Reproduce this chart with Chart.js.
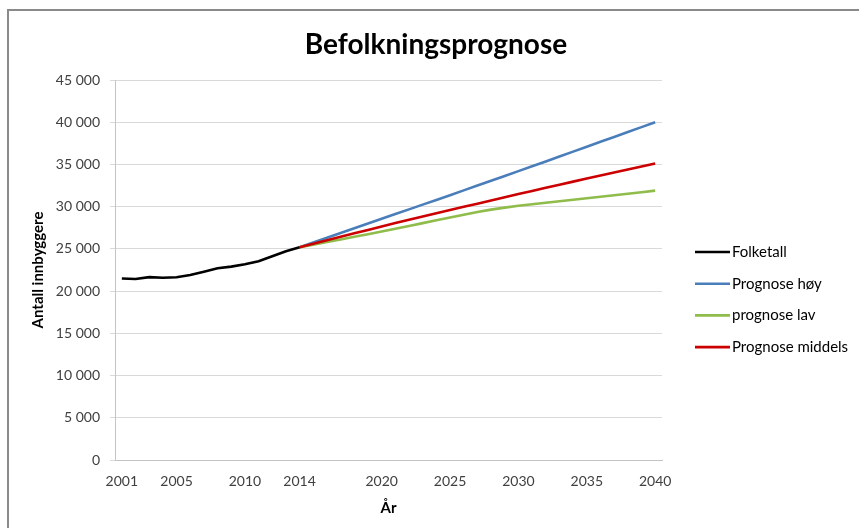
<!DOCTYPE html>
<html>
<head>
<meta charset="utf-8">
<script src="https://cdn.jsdelivr.net/npm/chart.js@4/dist/chart.umd.min.js"></script>
<style>
  html, body { margin: 0; padding: 0; background: #fff; }
  #frame {
    position: absolute; left: 7px; top: 9px; width: 900px; height: 600px;
    border-left: 2px solid #8a8a8a; border-top: 2px solid #8a8a8a;
  }
  #wrap { position: absolute; left: 0; top: 0; width: 859px; height: 528px; }
</style>
</head>
<body>
<div id="frame"></div>
<div id="wrap"><canvas id="popChart" width="859" height="528"></canvas></div>
<script>
const years = [];
for (let y = 2001; y <= 2040; y++) years.push(String(y));

const shownYears = ["2001", "2005", "2010", "2014", "2020", "2025", "2030", "2035", "2040"];

// Folketall 2001-2014
const folketall = [21500, 21430, 21650, 21580, 21650, 21900, 22300, 22700, 22900, 23170, 23530, 24130, 24720, 25200];

// Prognoser 2014-2040
const prognoseHoy = [25200, 25760, 26320, 26880, 27440, 28000, 28560, 29120, 29680, 30240, 30800, 31360,
  31930, 32500, 33070, 33640, 34210, 34780, 35360, 35940, 36520, 37100, 37680, 38260, 38840, 39420, 40000];
const prognoseLav = [25200, 25500, 25805, 26115, 26430, 26745, 27060, 27390, 27720, 28050, 28380, 28710,
  29040, 29370, 29650, 29890, 30100, 30285, 30465, 30645, 30820, 30995, 31170, 31350, 31530, 31715, 31900];
const prognoseMiddels = [25200, 25610, 26020, 26430, 26840, 27250, 27660, 28060, 28455, 28845, 29230, 29610,
  29985, 30355, 30740, 31120, 31495, 31865, 32235, 32600, 32965, 33325, 33685, 34040, 34395, 34750, 35100];

const yTicks = [0, 5000, 10000, 15000, 20000, 25000, 30000, 35000, 40000, 45000];

const pad = (arr, before) => Array(before).fill(null).concat(arr);
const histData = folketall.concat(Array(years.length - folketall.length).fill(null));
const progStart = years.indexOf("2014");

const series = [
  { label: "Folketall", data: histData, color: "#000000" },
  { label: "Prognose høy", data: pad(prognoseHoy, progStart), color: "#4a7ebb" },
  { label: "prognose lav", data: pad(prognoseLav, progStart), color: "#8fbc4a" },
  { label: "Prognose middels", data: pad(prognoseMiddels, progStart), color: "#cc0000" },
];

const fmt = (v) => {
  const s = String(v);
  return s.length > 3 ? s.slice(0, s.length - 3) + "\u00a0" + s.slice(-3) : s;
};

const ctx = document.getElementById("popChart").getContext("2d");

new Chart(ctx, {
  type: "line",
  data: {
    labels: years,
    // black on top, then red, green, blue
    datasets: series.map((s, i) => ({
      label: s.label,
      data: s.data,
      borderColor: s.color,
      backgroundColor: s.color,
      borderWidth: 2.6,
      pointRadius: 0,
      tension: 0,
      order: i === 0 ? 0 : 4 - i,
    })),
  },
  options: {
    responsive: false,
    animation: false,
    layout: { padding: { left: 25, right: 197, top: 80, bottom: 8 } },
    plugins: {
      legend: { display: false },
      tooltip: { enabled: false },
    },
    scales: {
      x: {
        type: "category",
        offset: true,
        grid: { display: false, drawTicks: false },
        border: { display: true, color: "#c4c4c4", width: 1 },
        ticks: {
          autoSkip: false,
          maxRotation: 0,
          padding: 13,
          color: "#404040",
          font: { family: "Lato", size: 14 },
          callback: function (value) {
            const lbl = this.getLabelForValue(value);
            return shownYears.includes(lbl) ? lbl : "";
          },
        },
        title: {
          display: true,
          text: "År",
          color: "#000",
          font: { family: "Lato", size: 15, weight: "bold" },
          padding: { top: 4, bottom: 3 },
        },
        afterFit: (s) => { s.height = 60; },
      },
      y: {
        min: 0,
        max: 45000,
        afterBuildTicks: (s) => { s.ticks = yTicks.map((v) => ({ value: v })); },
        grid: { color: "#d9d9d9", lineWidth: 1, tickLength: 5, drawTicks: true },
        border: { display: true, color: "#c4c4c4", width: 1 },
        ticks: {
          padding: 10,
          color: "#404040",
          font: { family: "Lato", size: 14 },
          callback: (v) => fmt(v),
        },
        title: {
          display: true,
          text: "Antall innbyggere",
          color: "#000",
          font: { family: "Lato", size: 15, weight: "bold" },
          padding: { top: 4, bottom: 4 },
        },
        afterFit: (s) => { s.width = 90; },
      },
    },
  },
  plugins: [
    {
      id: "titleAndLegend",
      afterDraw(chart) {
        const { ctx, chartArea } = chart;
        ctx.save();
        ctx.fillStyle = "#000";
        ctx.font = "bold 28px Lato";
        ctx.textAlign = "center";
        ctx.textBaseline = "middle";
        ctx.fillText("Befolkningsprognose", 436, 45);

        const x0 = chartArea.right + 33;
        ctx.font = "15px Lato";
        ctx.textAlign = "left";
        series.forEach((s, i) => {
          const y = 252 + i * 31.7;
          ctx.strokeStyle = s.color;
          ctx.lineWidth = 2.6;
          ctx.beginPath();
          ctx.moveTo(x0, y);
          ctx.lineTo(x0 + 35, y);
          ctx.stroke();
          ctx.fillStyle = "#000";
          ctx.fillText(s.label, x0 + 37, y);
        });
        ctx.restore();
      },
    },
  ],
});
</script>
</body>
</html>
